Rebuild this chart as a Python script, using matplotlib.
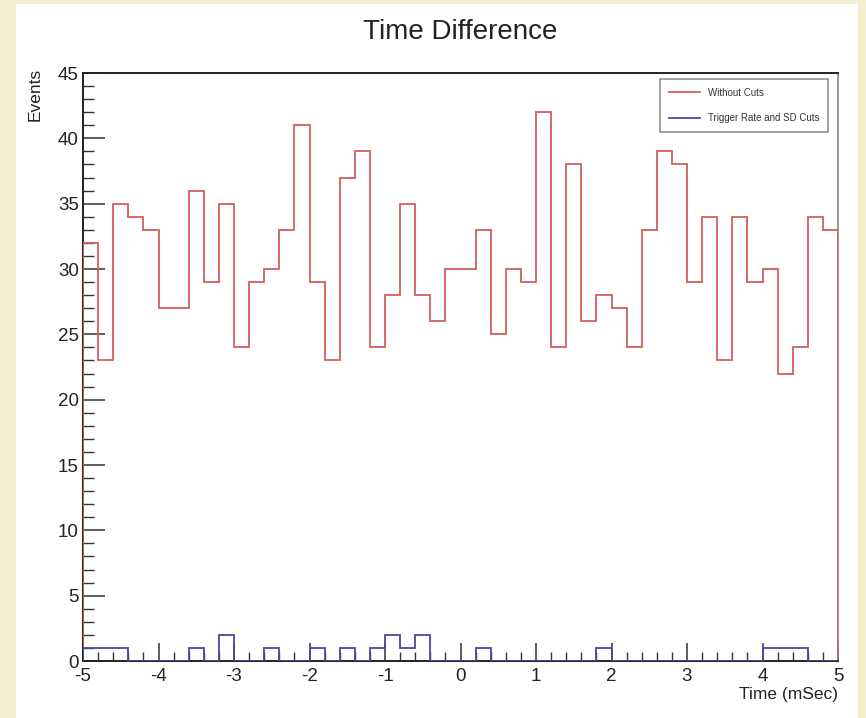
import numpy as np
import matplotlib
matplotlib.use("Agg")
import matplotlib.pyplot as plt
from matplotlib.patches import Rectangle
from matplotlib.ticker import MultipleLocator

# ---- data ----
x_min, x_max, n_bins = -5.0, 5.0, 50
without_cuts = [32, 23, 35, 34, 33, 27, 27, 36, 29, 35,
                24, 29, 30, 33, 41, 29, 23, 37, 39, 24,
                28, 35, 28, 26, 30, 30, 33, 25, 30, 29,
                42, 24, 38, 26, 28, 27, 24, 33, 39, 38,
                29, 34, 23, 34, 29, 30, 22, 24, 34, 33]
with_cuts = [1, 1, 1, 0, 0, 0, 0, 1, 0, 2,
             0, 0, 1, 0, 0, 1, 0, 1, 0, 1,
             2, 1, 2, 0, 0, 0, 1, 0, 0, 0,
             0, 0, 0, 0, 1, 0, 0, 0, 0, 0,
             0, 0, 0, 0, 0, 1, 1, 1, 0, 0]
labels = ["Without Cuts", "Trigger Rate and SD Cuts"]
title = "Time Difference"
xlabel = "Time (mSec)"
ylabel = "Events"

edges = np.linspace(x_min, x_max, n_bins + 1)

plt.rcParams['font.family'] = ['Liberation Sans', 'DejaVu Sans']
plt.rcParams['axes.unicode_minus'] = False

W, H = 866, 718
fig = plt.figure(figsize=(W / 100, H / 100), dpi=100)
fig.patch.set_facecolor('#f4eed0')
# white canvas
fig.patches.append(Rectangle((16 / W, 0), (858 - 16) / W, (718 - 4) / H,
                             transform=fig.transFigure, facecolor='white',
                             edgecolor='none', zorder=-10))

ax = fig.add_axes([83 / W, (718 - 661) / H, (838 - 83) / W, (661 - 73) / H])
ax.set_zorder(5)
ax.set_facecolor('white')

red = '#d0605e'
blue = '#4848a8'
ax.stairs(without_cuts, edges, baseline=0, color=red, linewidth=1.3,
          label=labels[0], zorder=3)
ax.stairs(with_cuts, edges, baseline=0, color=blue, linewidth=1.3,
          label=labels[1], zorder=3)

ax.set_xlim(x_min, x_max)
ax.set_ylim(0, 45)
ax.xaxis.set_major_locator(MultipleLocator(1))
ax.xaxis.set_minor_locator(MultipleLocator(0.2))
ax.yaxis.set_major_locator(MultipleLocator(5))
ax.yaxis.set_minor_locator(MultipleLocator(1))
ax.tick_params(axis='both', which='both', direction='in', top=False, right=False,
               colors='#333333', labelcolor='#222222')
ax.tick_params(axis='y', which='major', length=16, width=1.1, labelsize=13.5, pad=3)
ax.tick_params(axis='y', which='minor', length=8, width=1.0)
ax.tick_params(axis='x', which='major', length=13, width=1.1, labelsize=13.5, pad=5)
ax.tick_params(axis='x', which='minor', length=6.5, width=1.0)
for s in ['left', 'bottom', 'top']:
    ax.spines[s].set_color('#222222')
    ax.spines[s].set_linewidth(1.4)
ax.spines['right'].set_color('#888888')
ax.spines['right'].set_linewidth(1.2)

fig.text(460 / W, 1 - 32 / H, title, ha='center', va='center', fontsize=20,
         color='#222222')
fig.text(838 / W, 1 - 695 / H, xlabel, ha='right', va='center', fontsize=12.5,
         color='#222222')
fig.text(35 / W, 1 - 68 / H, ylabel, ha='center', va='top', rotation=90,
         fontsize=12.5, color='#222222')

leg = ax.legend(loc='upper right', bbox_to_anchor=(828 / W, 1 - 79 / H),
                bbox_transform=fig.transFigure, fontsize=7, frameon=True,
                fancybox=False, shadow=False, borderpad=0.9, labelspacing=1.6,
                handlelength=3.2, handletextpad=0.8, borderaxespad=0)
leg.get_frame().set_edgecolor('#777777')
leg.get_frame().set_linewidth(1.2)
for t in leg.get_texts():
    t.set_color('#333333')

fig.savefig('out.png', dpi=100, facecolor=fig.get_facecolor())
